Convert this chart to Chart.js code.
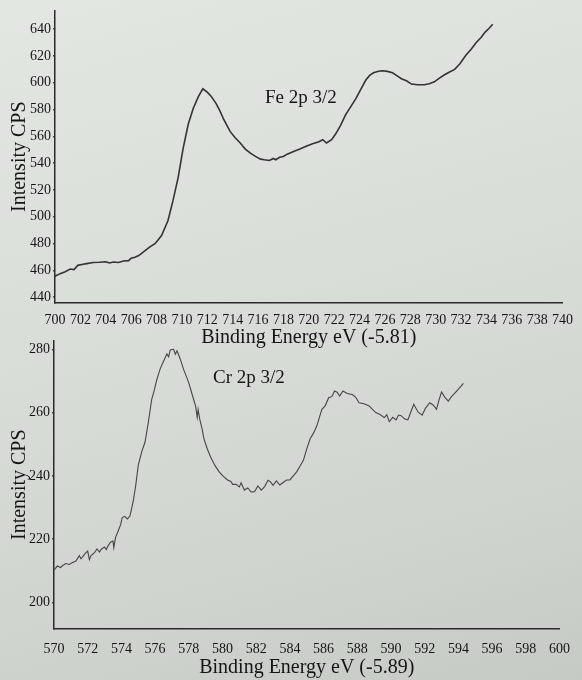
<!DOCTYPE html>
<html><head><meta charset="utf-8">
<script src="https://cdn.jsdelivr.net/npm/chart.js@4.4.1/dist/chart.umd.min.js"></script>
<style>
html,body{margin:0;padding:0;}
body{width:582px;height:680px;position:relative;overflow:hidden;
 background:linear-gradient(165deg,#e3e7e2 0%,#d9ddd8 45%,#cfd3ce 80%,#c6cac5 100%);}
canvas{position:absolute;left:0;}
.lbl{position:absolute;font-family:"Liberation Serif","Times New Roman",serif;font-size:19px;line-height:1;color:#151515;white-space:nowrap;}
</style></head><body>
<canvas id="fe" width="582" height="350" style="top:0"></canvas>
<canvas id="cr" width="582" height="350" style="top:330px"></canvas>
<div class="lbl" style="left:265px;top:87px">Fe 2p 3/2</div>
<div class="lbl" style="left:213px;top:367px">Cr 2p 3/2</div>
<script>
// ---- Fe 2p 3/2 ----
const feEnergy = [700.0,700.4,700.8,701.2,701.5,701.8,702.2,702.5,703.0,703.5,704.0,704.3,704.6,705.0,705.4,705.8,706.0,706.3,706.6,707.0,707.4,707.9,708.4,708.9,709.3,709.7,710.1,710.5,710.9,711.3,711.65,712.0,712.3,712.7,713.0,713.3,713.8,714.2,714.6,715.0,715.4,715.8,716.2,716.5,716.9,717.2,717.4,717.7,718.0,718.3,718.9,719.3,719.8,720.3,720.8,721.1,721.4,721.8,722.1,722.5,722.9,723.3,723.7,724.1,724.5,724.8,725.1,725.5,725.8,726.2,726.6,727.0,727.3,727.7,728.1,728.6,729.1,729.5,729.9,730.3,730.7,731.1,731.5,731.9,732.4,732.8,733.2,733.6,733.9,734.2,734.5];
const feIntensity = [455.6,457.5,459,461,460.5,463.7,464.5,465,465.8,466,466.4,465.5,466.2,465.8,467,467.2,469,469.8,471,474,477,480,486,497,512,529,551,569,581,589.6,595.5,593,590,584.4,579,572.6,563.7,559,555,550.5,547.4,545,543,542.5,542,543.5,542.5,544.4,545,546.7,549,550.5,552.6,554.5,556,557.5,555,557.5,561.5,568,576,582,588,595,602,605.5,607.4,608.6,609,608.5,607.4,605,603,601.5,599,598.5,598.5,599.2,600.7,603.5,606,608,610,614,620.7,625,630,634,637.8,640.5,643.7];
const feXTicks = [700,702,704,706,708,710,712,714,716,718,720,722,724,726,728,730,732,734,736,738,740];
const feYTicks = [440,460,480,500,520,540,560,580,600,620,640];

// ---- Cr 2p 3/2 ----
const crEnergy = [570.0,570.2,570.4,570.5,570.7,570.9,571.1,571.3,571.5,571.6,571.7,571.85,572.0,572.1,572.2,572.4,572.55,572.7,572.8,573.0,573.1,573.2,573.35,573.5,573.55,573.65,573.8,573.95,574.05,574.2,574.35,574.5,574.6,574.7,574.85,575.0,575.2,575.4,575.6,575.8,575.95,576.1,576.3,576.5,576.7,576.8,576.9,577.1,577.2,577.3,577.4,577.55,577.7,577.85,578.0,578.2,578.4,578.5,578.55,578.65,578.8,578.9,579.1,579.3,579.55,579.8,580.05,580.3,580.5,580.6,580.8,581.0,581.1,581.3,581.5,581.7,581.9,582.1,582.3,582.5,582.7,582.85,583.0,583.2,583.4,583.6,583.8,584.0,584.2,584.4,584.6,584.8,585.0,585.2,585.4,585.6,585.75,585.9,586.1,586.3,586.5,586.65,586.8,586.95,587.15,587.4,587.7,587.9,588.1,588.4,588.7,588.9,589.1,589.35,589.6,589.75,589.9,590.1,590.3,590.45,590.6,590.8,591.0,591.2,591.35,591.6,591.85,592.05,592.3,592.5,592.7,592.85,593.0,593.2,593.4,593.6,593.8,594.0,594.3];
const crIntensity = [210.2,211.5,211,211.6,212.3,212,212.6,213.1,214.8,213.8,214.4,215.5,216.2,213.5,214.8,215.7,216.9,215.9,216.8,217.5,216.7,217.8,219,219.4,217.3,220.5,222.5,224.5,226.8,227.2,226.4,227.2,229.5,231.9,237,243.3,247.5,250.6,257,264.2,267,270.4,273.8,276.2,278.5,277.6,279.8,280,278.4,279.5,278.2,276,273.5,271.5,269.4,265.7,262.1,258.5,261,257.9,254.5,251.7,248.5,245.9,243.3,241.25,239.8,238.7,238.2,237.3,237.3,236.5,237.8,235.5,236.2,234.9,235,236.8,235.5,236.6,238.6,238.1,237,238.4,237.1,237.9,238.7,238.7,240,241.25,243,244.9,248.5,251.7,253.5,255.8,258.5,261,262.2,264.7,265.1,266.8,266.4,265.2,266.8,266,265.7,264.9,263.1,262.8,262.1,261,260,259.4,258.4,259.3,257.1,258.5,257.7,259.2,259,258,257.7,260.5,262.6,260.2,259.2,261.4,263.1,262.4,261,264,266.5,264.8,263.6,265.1,266.25,267.4,269.2];
const crXTicks = [570,572,574,576,578,580,582,584,586,588,590,592,594,596,598,600];
const crYTicks = [200,220,240,260,280];

const FONT = '"Liberation Serif","Times New Roman",serif';
const TXT = '#151515';

function makeChart(id, xs, ys, xTicks, yTicks, cfg) {
  const data = xs.map((x, i) => ({x: x, y: ys[i]}));
  return new Chart(document.getElementById(id), {
    type: 'line',
    data: {datasets: [{data: data, borderColor: cfg.lineColor, borderWidth: cfg.lineWidth, pointRadius: 0, tension: 0, fill: false}]},
    options: {
      responsive: false, animation: false,
      layout: {padding: {left: 0, right: cfg.padRight, top: cfg.padTop, bottom: 0}},
      plugins: {legend: {display: false}, tooltip: {enabled: false}},
      scales: {
        x: {
          type: 'linear', min: cfg.xmin, max: cfg.xmax,
          afterBuildTicks: s => { s.ticks = xTicks.map(v => ({value: v})); },
          afterFit: s => { s.height = cfg.xAxisH; },
          grid: {display: false, drawTicks: false},
          border: {display: true, color: '#2a2a2a', width: 1.5},
          ticks: {color: TXT, font: {family: FONT, size: 14}, padding: cfg.xTickPad, maxRotation: 0, autoSkip: false},
          title: {display: true, text: cfg.xTitle, color: TXT, font: {family: FONT, size: 20}, padding: {top: 0, bottom: 0}}
        },
        y: {
          type: 'linear', min: cfg.ymin, max: cfg.ymax,
          afterBuildTicks: s => { s.ticks = yTicks.map(v => ({value: v})); },
          afterFit: s => { s.width = cfg.yAxisW; },
          grid: {display: true, drawOnChartArea: false, drawTicks: true, tickLength: 2, color: '#444', lineWidth: 1.5},
          border: {display: true, color: '#2a2a2a', width: 1.5},
          ticks: {color: TXT, font: {family: FONT, size: 14}, padding: 2},
          title: {display: true, text: 'Intensity CPS', color: TXT, font: {family: FONT, size: 20}, padding: {top: 8, bottom: 0}}
        }
      }
    }
  });
}

makeChart('fe', feEnergy, feIntensity, feXTicks, feYTicks, {
  xmin: 700, xmax: 740, ymin: 435.6, ymax: 654,
  padRight: 12, padTop: 8, xAxisH: 47, yAxisW: 55, xTickPad: 9,
  xTitle: 'Binding Energy eV (-5.81)', lineColor: '#333333', lineWidth: 1.6
});
makeChart('cr', crEnergy, crIntensity, crXTicks, crYTicks, {
  xmin: 570, xmax: 600, ymin: 191.6, ymax: 282.8,
  padRight: 16, padTop: 7, xAxisH: 51, yAxisW: 54, xTickPad: 12,
  xTitle: 'Binding Energy eV (-5.89)', lineColor: '#454545', lineWidth: 1.1
});
</script>
</body></html>
